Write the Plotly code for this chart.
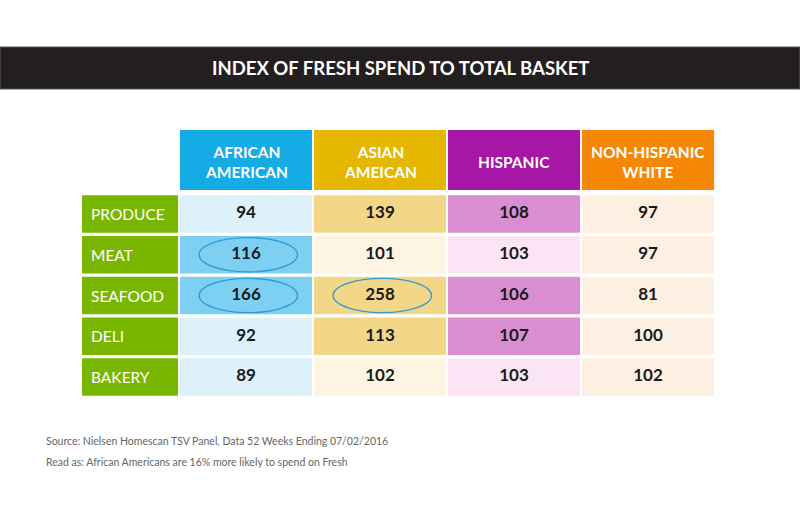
import plotly.graph_objects as go

# ---------------- data ----------------
title = "INDEX OF FRESH SPEND TO TOTAL BASKET"
groups = ["AFRICAN<br>AMERICAN", "ASIAN<br>AMEICAN", "HISPANIC", "NON-HISPANIC<br>WHITE"]
categories = ["PRODUCE", "MEAT", "SEAFOOD", "DELI", "BAKERY"]
african_american = [94, 116, 166, 92, 89]
asian_american = [139, 101, 258, 113, 102]
hispanic = [108, 103, 106, 107, 103]
non_hispanic_white = [97, 97, 81, 100, 102]
highlighted = [("MEAT", 0), ("SEAFOOD", 0), ("SEAFOOD", 1)]  # (category, group index)
source_lines = [
    "Source: Nielsen Homescan TSV Panel, Data 52 Weeks Ending 07/02/2016",
    "Read as: African Americans are 16% more likely to spend on Fresh",
]

# ---------------- styles ----------------
header_colors = ["#15ACE6", "#E5B700", "#A717A6", "#F48806"]
light_colors = ["#DDF1FB", "#FDF4E1", "#FBE4F4", "#FDEFE1"]
dark_colors = ["#7ED0F2", "#F3D789", "#D98ED1", "#FDEFE1"]
label_green = "#79B600"
ring_color = "#2E9BD3"
DARK_THRESHOLD = 105

series = [african_american, asian_american, hispanic, non_hispanic_white]

W, H = 800, 530
fig = go.Figure()

# geometry in axis units
half_w = 0.493
half_h = 0.463
label_x0, label_x1 = -1.224, -0.507
head_y0, head_y1 = -2.06, -0.589

shapes = []
annotations = []

# header cells
for j, g in enumerate(groups):
    shapes.append(dict(type="rect", xref="x", yref="y", x0=j - half_w, x1=j + half_w,
                       y0=head_y0, y1=head_y1, fillcolor=header_colors[j], line_width=0, layer="below"))
    annotations.append(dict(xref="x", yref="y", x=j, y=(head_y0 + head_y1) / 2 + 0.05, text=f"<b>{g}</b>",
                            showarrow=False, font=dict(family="Lato", size=15.5, color="white"),
                            align="center", xanchor="center", yanchor="middle"))

# row labels and cells
xs, ys, texts = [], [], []
for i, cat in enumerate(categories):
    shapes.append(dict(type="rect", xref="x", yref="y", x0=label_x0, x1=label_x1,
                       y0=i - half_h, y1=i + half_h, fillcolor=label_green, line_width=0, layer="below"))
    annotations.append(dict(xref="x", yref="y", x=label_x0 + 0.05, y=i, text=cat, xanchor="left",
                            yanchor="middle", showarrow=False,
                            font=dict(family="Lato", size=15.5, color="white")))
    for j, vals in enumerate(series):
        v = vals[i]
        col = dark_colors[j] if v > DARK_THRESHOLD else light_colors[j]
        shapes.append(dict(type="rect", xref="x", yref="y", x0=j - half_w, x1=j + half_w,
                           y0=i - half_h, y1=i + half_h, fillcolor=col, line_width=0, layer="below"))
        xs.append(j)
        ys.append(i)
        texts.append(f"<b>{v}</b>")

# highlight rings
for cat, j in highlighted:
    i = categories.index(cat)
    shapes.append(dict(type="circle", xref="x", yref="y", x0=j - 0.35, x1=j + 0.385,
                       y0=i - 0.42, y1=i + 0.42, line=dict(color=ring_color, width=1.3),
                       fillcolor="rgba(0,0,0,0)"))

fig.add_trace(go.Scatter(x=xs, y=ys, mode="text", text=texts, textposition="middle center",
                         textfont=dict(family="Lato", size=17, color="#1a1a1a"),
                         hoverinfo="skip", showlegend=False))

# title banner
shapes.append(dict(type="rect", xref="paper", yref="paper", x0=0, x1=1, y0=1 - 89 / H, y1=1 - 47 / H,
                   fillcolor="#231F20", line=dict(color="#555555", width=1), layer="below"))
annotations.append(dict(xref="paper", yref="paper", x=0.5, y=1 - 68 / H, text=f"<b>{title}</b>",
                        xanchor="center", yanchor="middle",
                        showarrow=False, font=dict(family="Lato", size=18.5, color="white")))

# footer
for k, line in enumerate(source_lines):
    annotations.append(dict(xref="paper", yref="paper", x=44 / W, y=1 - (441 + 21 * k) / H, text=line,
                            xanchor="left", yanchor="middle", showarrow=False,
                            font=dict(family="Lato", size=10.5, color="#666666")))

fig.update_layout(
    width=W, height=H, margin=dict(l=0, r=0, t=0, b=0),
    paper_bgcolor="white", plot_bgcolor="white",
    xaxis=dict(range=[-246 / 134, (W - 246) / 134], visible=False, fixedrange=True),
    yaxis=dict(range=[(H - 214) / 40.75, -214 / 40.75], visible=False, fixedrange=True),
    shapes=shapes, annotations=annotations, showlegend=False,
)

fig.write_html("out.html", config={"displayModeBar": False},
               post_script="document.body.style.margin='0';document.body.style.overflow='hidden';")
